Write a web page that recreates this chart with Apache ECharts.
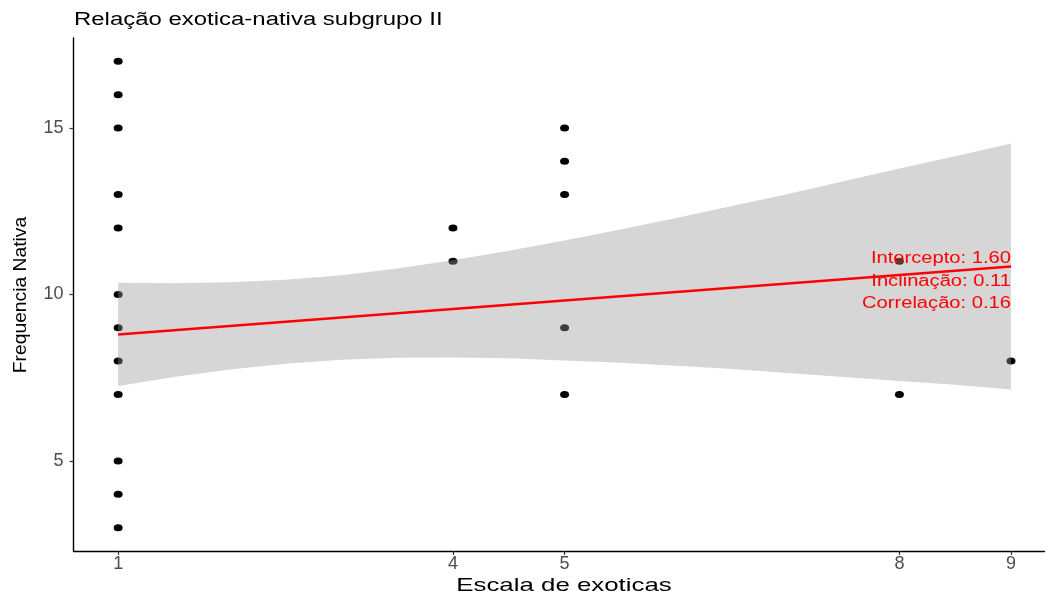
<!DOCTYPE html>
<html>
<head>
<meta charset="utf-8">
<script src="https://cdn.jsdelivr.net/npm/echarts@6/dist/echarts.min.js"></script>
<style>
  html, body { margin: 0; padding: 0; background: #fff; }
  #chart { width: 1049px; height: 597px; }
</style>
</head>
<body>
<div id="chart"></div>
<script>
// Observations: escala de exoticas (x) vs frequencia nativa (y)
const pointsX = [1, 1, 1, 1, 1, 1, 1, 1, 1, 1, 1, 1, 4, 4, 5, 5, 5, 5, 5, 8, 8, 9];
const pointsY = [17, 16, 15, 13, 12, 10, 9, 8, 7, 5, 4, 3, 12, 11, 15, 14, 13, 9, 7, 11, 7, 8];

// Fitted line and its confidence band
const fitX = [1, 9];
const fitY = [8.80, 10.84];
const bandX = [1, 1.5, 2, 2.5, 3, 3.5, 4, 4.5, 5, 5.5, 6, 6.5, 7, 7.5, 8, 8.5, 9];
const bandUpper = [10.35, 10.34, 10.37, 10.44, 10.58, 10.78, 11.03, 11.31, 11.62, 11.95, 12.30, 12.66, 13.02, 13.40, 13.78, 14.15, 14.53];
const bandLower = [7.25, 7.52, 7.75, 7.92, 8.04, 8.10, 8.11, 8.09, 8.02, 7.95, 7.86, 7.76, 7.64, 7.52, 7.40, 7.29, 7.15];

// Tick labels
const xTicks = [1, 4, 5, 8, 9];
const yTicks = [5, 10, 15];

// Model summary
const annoLabels = ['Intercepto: 1.60', 'Inclinação: 0.11', 'Correlação: 0.16'];

const FONT = '"Liberation Sans", Arial, Helvetica, sans-serif';

const chart = echarts.init(document.getElementById('chart'), null, { renderer: 'canvas' });

const axisCommon = {
  type: 'value',
  splitLine: { show: false },
  axisLine: { show: true, lineStyle: { color: '#000', width: 1.4 } },
  axisTick: { show: true, length: 4, lineStyle: { color: '#333', width: 1.2 } },
  axisLabel: { color: '#4d4d4d', fontSize: 18, fontFamily: FONT }
};

chart.setOption({
  animation: false,
  backgroundColor: '#fff',
  grid: { left: 73.5, right: 4.5, top: 38, bottom: 46, containLabel: false },
  xAxis: Object.assign({}, axisCommon, {
    min: 0.6, max: 9.3,
    axisTick: Object.assign({}, axisCommon.axisTick, { customValues: xTicks }),
    axisLabel: Object.assign({}, axisCommon.axisLabel, { customValues: xTicks, margin: 4 })
  }),
  yAxis: Object.assign({}, axisCommon, {
    min: 2.3, max: 17.7,
    axisTick: Object.assign({}, axisCommon.axisTick, { customValues: yTicks }),
    axisLabel: Object.assign({}, axisCommon.axisLabel, { customValues: yTicks, margin: 10 })
  }),
  graphic: [
    {
      type: 'text', x: 74, y: 20, scaleX: 1.33,
      style: { text: 'Relação exotica-nativa subgrupo II', font: '18px ' + FONT, fill: '#000', align: 'left', verticalAlign: 'middle' }
    },
    {
      type: 'text', x: 564, y: 586, scaleX: 1.36,
      style: { text: 'Escala de exoticas', font: '19px ' + FONT, fill: '#000', align: 'center', verticalAlign: 'middle' }
    },
    {
      type: 'text', x: 21, y: 295, rotation: Math.PI / 2, scaleX: 1.07,
      style: { text: 'Frequencia Nativa', font: '18px ' + FONT, fill: '#000', align: 'center', verticalAlign: 'middle' }
    }
  ],
  series: [
    {
      type: 'scatter',
      z: 2,
      symbol: 'circle',
      symbolSize: [9, 7],
      itemStyle: { color: '#000', opacity: 1 },
      data: pointsX.map((x, i) => [x, pointsY[i]])
    },
    {
      type: 'custom',
      z: 3,
      data: [[bandX[0], bandUpper[0]]],
      renderItem: function (params, api) {
        const pts = [];
        for (let i = 0; i < bandX.length; i++) pts.push(api.coord([bandX[i], bandUpper[i]]));
        for (let i = bandX.length - 1; i >= 0; i--) pts.push(api.coord([bandX[i], bandLower[i]]));
        return {
          type: 'polygon',
          shape: { points: pts },
          style: { fill: 'rgba(153,153,153,0.4)', stroke: null }
        };
      }
    },
    {
      type: 'line',
      z: 4,
      symbol: 'none',
      lineStyle: { color: '#ff0000', width: 2.6 },
      data: fitX.map((x, i) => [x, fitY[i]])
    },
    {
      type: 'custom',
      z: 5,
      data: [[9, 11.08], [9, 10.40], [9, 9.72]],
      renderItem: function (params, api) {
        const p = api.coord([api.value(0), api.value(1)]);
        return {
          type: 'text',
          x: p[0], y: p[1], scaleX: 1.26,
          style: {
            text: annoLabels[params.dataIndex],
            font: '16px ' + FONT,
            fill: '#ff0000',
            align: 'right',
            verticalAlign: 'middle'
          }
        };
      }
    }
  ]
});
</script>
</body>
</html>
